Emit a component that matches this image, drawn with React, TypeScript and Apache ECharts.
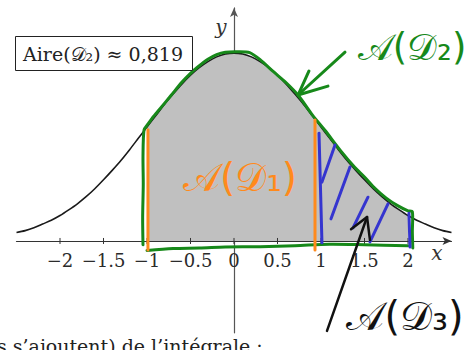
import React, { useEffect, useRef } from "react";
import * as echarts from "echarts";

// Density curve samples (x, y)
const curveX = [
  -2.5, -2.4, -2.3, -2.2, -2.1, -2, -1.9, -1.8, -1.7, -1.6, -1.5, -1.4, -1.3, -1.2, -1.1, -1,
  -0.9, -0.8, -0.7, -0.6, -0.5, -0.4, -0.3, -0.2, -0.1, 0, 0.1, 0.2, 0.3, 0.4, 0.5, 0.6, 0.7,
  0.8, 0.9, 1, 1.1, 1.2, 1.3, 1.4, 1.5, 1.6, 1.7, 1.8, 1.9, 2, 2.1, 2.2, 2.3, 2.4, 2.5,
];
const curveY = [
  0.018, 0.022, 0.028, 0.036, 0.044, 0.054, 0.066, 0.079, 0.094, 0.111, 0.13, 0.15, 0.171, 0.194, 0.218, 0.242,
  0.266, 0.29, 0.312, 0.333, 0.352, 0.368, 0.381, 0.391, 0.397, 0.399, 0.397, 0.391, 0.381, 0.368, 0.352, 0.333, 0.312,
  0.29, 0.266, 0.242, 0.218, 0.194, 0.171, 0.15, 0.13, 0.111, 0.094, 0.079, 0.066, 0.054, 0.044, 0.036, 0.028, 0.022, 0.018,
];

// Shaded interval
const shadeFrom = -1;
const shadeTo = 2;

// Tick positions / labels of the x axis
const tickValues = [-2, -1.5, -1, -0.5, 0, 0.5, 1, 1.5, 2];

const areaCaption = "Aire(𝒟₂) ≈ 0,819";
const footerLine = "s s’ajoutent) de l’intégrale :";

// Hand-drawn strokes, in data coordinates
const greenOutline = [
  [-1.046, -0.008], [-1.05, 0.05], [-1.043, 0.12], [-1.046, 0.18], [-1.034, 0.236],
  [-0.99, 0.248], [-0.94, 0.261], [-0.85, 0.281], [-0.72, 0.31], [-0.6, 0.337], [-0.5, 0.356],
  [-0.42, 0.369], [-0.3, 0.386], [-0.2, 0.396], [-0.1, 0.401], [0.05, 0.402], [0.18, 0.4],
  [0.3, 0.385], [0.45, 0.36], [0.6, 0.336], [0.74, 0.309], [0.9, 0.268], [1.05, 0.234],
  [1.22, 0.193], [1.39, 0.156], [1.5, 0.136], [1.62, 0.112], [1.75, 0.091], [1.88, 0.075],
  [2.0, 0.064], [2.05, 0.062], [2.05, 0.02], [2.055, -0.015],
];
const greenBase = [
  [-1.0, -0.02], [-0.7, -0.016], [-0.4, -0.015], [-0.1, -0.013], [0.3, -0.012],
  [0.7, -0.01], [1.1, -0.007], [1.5, -0.008], [2.0, -0.01],
];
const greenArrowShaft = [[1.276, 0.401], [0.736, 0.31]];
const greenArrowHead = [[0.862, 0.361], [0.736, 0.31], [1.08, 0.329]];

const orangeLeft = [[-0.989, 0.236], [-0.989, -0.019]];
const orangeRight = [[0.931, 0.257], [0.931, -0.019]];

const blueLeft = [[0.977, 0.229], [1.011, -0.004]];
const blueRight = [[2.011, 0.059], [2.023, -0.013]];
const blueHatch1 = [[1.161, 0.204], [1.011, 0.125]];
const blueHatch2 = [[1.333, 0.157], [1.115, 0.047]];
const blueHatch3 = [[1.54, 0.093], [1.368, 0.028]];
const blueHatch4 = [[1.77, 0.079], [1.563, -0.002]];

const blackShaft = [[1.069, -0.191], [1.529, 0.051]];
const blackHead = [[1.345, 0.025], [1.529, 0.051], [1.563, 0.002]];

const GREEN = "#17891a";
const ORANGE = "#ff8a1c";
const BLUE = "#3535cf";
const INK = "#111111";

const strokes = [
  { pts: greenOutline, color: GREEN, width: 3, smooth: 0.25 },
  { pts: greenBase, color: GREEN, width: 3, smooth: 0.3 },
  { pts: greenArrowShaft, color: GREEN, width: 3, smooth: 0 },
  { pts: greenArrowHead, color: GREEN, width: 3, smooth: 0 },
  { pts: orangeLeft, color: ORANGE, width: 3, smooth: 0 },
  { pts: orangeRight, color: ORANGE, width: 3, smooth: 0 },
  { pts: blueLeft, color: BLUE, width: 3, smooth: 0 },
  { pts: blueRight, color: BLUE, width: 3, smooth: 0 },
  { pts: blueHatch1, color: BLUE, width: 3, smooth: 0 },
  { pts: blueHatch2, color: BLUE, width: 3, smooth: 0 },
  { pts: blueHatch3, color: BLUE, width: 3, smooth: 0 },
  { pts: blueHatch4, color: BLUE, width: 3, smooth: 0 },
  { pts: blackShaft, color: INK, width: 2.5, smooth: 0 },
  { pts: blackHead, color: INK, width: 2.5, smooth: 0 },
];

const notes = [
  { text: "𝒜(𝒟₂)", x: 2.046, y: 0.41, color: GREEN, size: 37 },
  { text: "𝒜(𝒟₁)", x: 0.069, y: 0.134, color: ORANGE, size: 39 },
  { text: "𝒜(𝒟₃)", x: 1.966, y: -0.159, color: INK, size: 40 },
];

const fmt = (v: number) => String(v).replace("-", "−");

export default function App() {
  const ref = useRef<HTMLDivElement>(null);

  useEffect(() => {
    if (!ref.current) return;
    const chart = echarts.init(ref.current, undefined, { renderer: "svg" });

    const curve = curveX.map((x, i) => [x, curveY[i]]);
    const shaded = curve.filter(([x]) => x >= shadeFrom - 1e-9 && x <= shadeTo + 1e-9);

    chart.setOption({
      animation: false,
      backgroundColor: "#ffffff",
      grid: { left: 16.5, right: 24.5, top: 7.9, bottom: 17.2, outerBoundsMode: "none" },
      xAxis: {
        type: "value",
        min: -2.5,
        max: 2.5,
        splitLine: { show: false },
        axisLine: {
          onZero: true,
          symbol: ["none", "arrow"],
          symbolSize: [6, 9],
          lineStyle: { color: "#333", width: 1.2 },
        },
        axisTick: { show: false },
        axisLabel: { show: false },
      },
      yAxis: {
        type: "value",
        min: -0.195,
        max: 0.495,
        splitLine: { show: false },
        axisTick: { show: false },
        axisLabel: { show: false },
        axisLine: {
          onZero: true,
          symbol: ["none", "arrow"],
          symbolSize: [6, 9],
          lineStyle: { color: "#555", width: 1.2 },
        },
      },
      graphic: [
        {
          type: "rect",
          shape: { x: 15.5, y: 36.5, width: 177, height: 34 },
          style: { fill: "#fff", stroke: "#222", lineWidth: 1 },
          z: 10,
        },
        {
          type: "text",
          x: 103,
          y: 54,
          style: {
            text: areaCaption,
            font: "19px 'DejaVu Serif'",
            fill: "#222",
            align: "center",
            verticalAlign: "middle",
          },
          z: 11,
        },
        {
          type: "text",
          x: 221,
          y: 27,
          style: { text: "y", font: "italic 20px 'DejaVu Serif'", fill: "#333", align: "center", verticalAlign: "middle" },
        },
        {
          type: "text",
          x: 437,
          y: 253,
          style: { text: "x", font: "italic 20px 'DejaVu Serif'", fill: "#333", align: "center", verticalAlign: "middle" },
        },
        {
          type: "text",
          x: -3,
          y: 346,
          style: { text: footerLine, font: "19px 'DejaVu Serif'", fill: "#222", align: "left", verticalAlign: "middle" },
        },
      ],
      series: [
        {
          type: "line",
          data: shaded,
          smooth: 0.3,
          showSymbol: false,
          lineStyle: { width: 0 },
          areaStyle: { color: "#c0c0c0", opacity: 1 },
          z: 2,
        },
        {
          type: "line",
          data: curve,
          smooth: 0.3,
          showSymbol: false,
          lineStyle: { color: "#1a1a1a", width: 1.6 },
          z: 3,
        },
        {
          // x-axis ticks and labels at y = 0
          type: "custom",
          coordinateSystem: "cartesian2d",
          data: tickValues.map((v) => [v, 0]),
          z: 4,
          silent: true,
          renderItem: (_params: any, api: any) => {
            const [x, y] = api.coord([api.value(0), api.value(1)]);
            return {
              type: "group",
              children: [
                {
                  type: "line",
                  shape: { x1: x, y1: y - 3, x2: x, y2: y + 3 },
                  style: { stroke: "#333", lineWidth: 1 },
                },
                {
                  type: "text",
                  x,
                  y: y + 20,
                  style: {
                    text: fmt(api.value(0)),
                    font: "18px 'DejaVu Serif'",
                    fill: "#2b2b2b",
                    align: "center",
                    verticalAlign: "middle",
                  },
                },
              ],
            };
          },
        },
        {
          // hand-drawn annotations
          type: "custom",
          coordinateSystem: "cartesian2d",
          data: [[0, 0]],
          z: 5,
          silent: true,
          renderItem: (_params: any, api: any) => ({
            type: "group",
            children: [
              ...strokes.map((s) => ({
                type: "polyline",
                shape: { points: s.pts.map((p) => api.coord(p)), smooth: s.smooth },
                style: { stroke: s.color, lineWidth: s.width, fill: null, lineCap: "round", lineJoin: "round" },
              })),
              ...notes.map((n) => {
                const [x, y] = api.coord([n.x, n.y]);
                return {
                  type: "text",
                  x,
                  y,
                  style: {
                    text: n.text,
                    fill: n.color,
                    font: `${n.size}px 'DejaVu Sans', 'Noto Sans', sans-serif`,
                    align: "center",
                    verticalAlign: "middle",
                  },
                };
              }),
            ],
          }),
        },
      ],
    });

    return () => chart.dispose();
  }, []);

  return (
    <div
      ref={ref}
      style={{ position: "fixed", left: 0, top: 0, width: 476, height: 350, background: "#fff" }}
    />
  );
}
